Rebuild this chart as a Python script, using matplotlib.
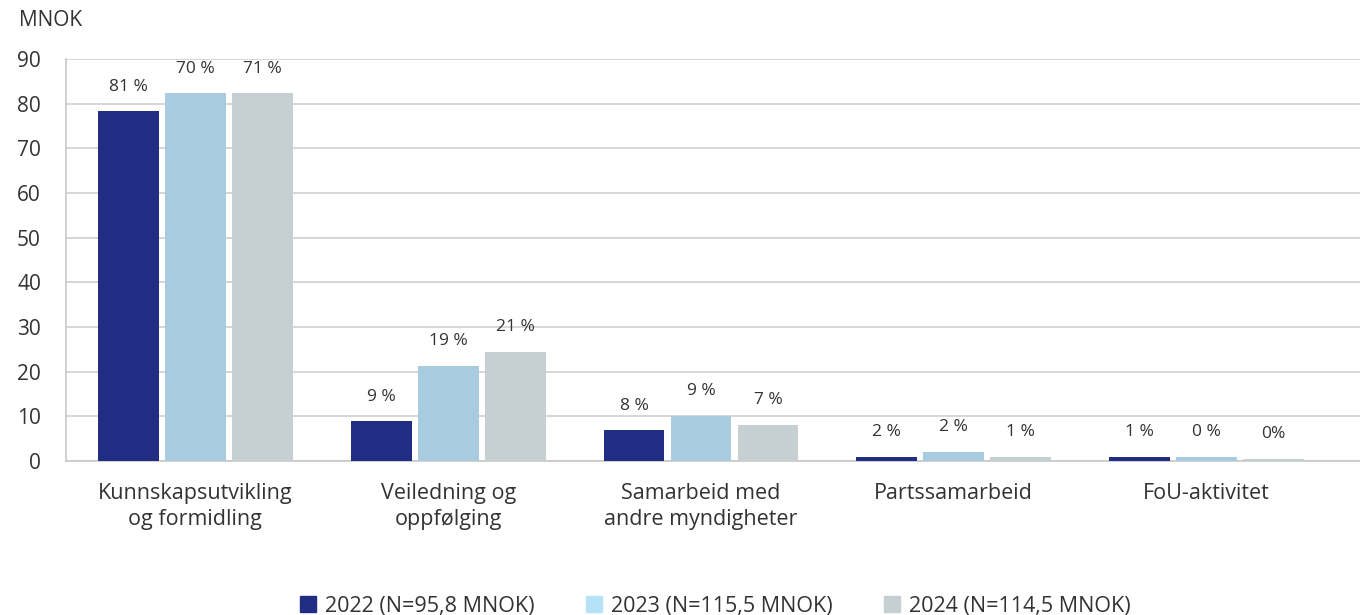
import numpy as np
import matplotlib
matplotlib.use("Agg")
from matplotlib import pyplot as plt

# data
categories = ["Kunnskapsutvikling\nog formidling", "Veiledning og\noppfølging",
              "Samarbeid med\nandre myndigheter", "Partssamarbeid", "FoU-aktivitet"]
v2022 = [78.3, 8.9, 6.9, 0.9, 0.9]
v2023 = [82.3, 21.3, 10.1, 2.0, 0.9]
v2024 = [82.3, 24.4, 8.1, 0.9, 0.45]
lab2022 = ["81 %", "9 %", "8 %", "2 %", "1 %"]
lab2023 = ["70 %", "19 %", "9 %", "2 %", "0 %"]
lab2024 = ["71 %", "21 %", "7 %", "1 %", "0%"]
legend_labels = ["2022 (N=95,8 MNOK)", "2023 (N=115,5 MNOK)", "2024 (N=114,5 MNOK)"]
yticks = [0, 10, 20, 30, 40, 50, 60, 70, 80, 90]

bar_colors = ["#212D82", "#A9CBDF", "#C6CFD1"]
legend_colors = ["#212D82", "#B5E2F6", "#C6CFD1"]
txt = "#333333"

plt.rcParams["font.family"] = ["Open Sans", "DejaVu Sans"]

fig = plt.figure(figsize=(13.6, 6.15), dpi=100)
ax = fig.add_axes([0.0485, 0.2504, 0.9515, 0.6536])

x = np.arange(len(categories))
w = 0.241
off = 0.265
series = [(v2022, lab2022), (v2023, lab2023), (v2024, lab2024)]
for k, (vals, labs) in enumerate(series):
    bars = ax.bar(x + (k - 1) * off, vals, width=w, color=bar_colors[k], zorder=3)
    for b, lab in zip(bars, labs):
        ax.annotate(lab, (b.get_x() + b.get_width() / 2, b.get_height()),
                    xytext=(0, 12), textcoords="offset points",
                    ha="center", va="bottom", fontsize=12.5, color=txt)

ax.set_xlim(-0.512, 4.607)
ax.set_ylim(0, 90)
ax.set_yticks(yticks)
ax.set_xticks(x)
ax.set_xticklabels(categories, fontsize=15.5, color=txt, linespacing=1.3)
ax.tick_params(axis="x", length=0, pad=16)
ax.tick_params(axis="y", length=0, pad=18, labelsize=15, labelcolor=txt)
ax.grid(axis="y", color="#D0D0D0", linewidth=1.2, zorder=0)
for s in ["top", "right"]:
    ax.spines[s].set_visible(False)
ax.spines["left"].set_color("#C8C8C8")
ax.spines["bottom"].set_color("#C8C8C8")
ax.spines["left"].set_linewidth(1.2)
ax.spines["bottom"].set_linewidth(1.2)

fig.text(19 / 1360, 1 - 21 / 615, "MNOK", fontsize=15, color=txt, va="center", ha="left")

handles = [plt.Rectangle((0, 0), 1, 1, color=c) for c in legend_colors]
fig.legend(handles, legend_labels, loc="center", bbox_to_anchor=(0.526, 0.014),
           ncol=3, frameon=False, fontsize=15.5, handlelength=0.75, handleheight=0.75,
           handletextpad=0.4, columnspacing=2.4, labelcolor=txt)

fig.savefig("out.png", dpi=100)
